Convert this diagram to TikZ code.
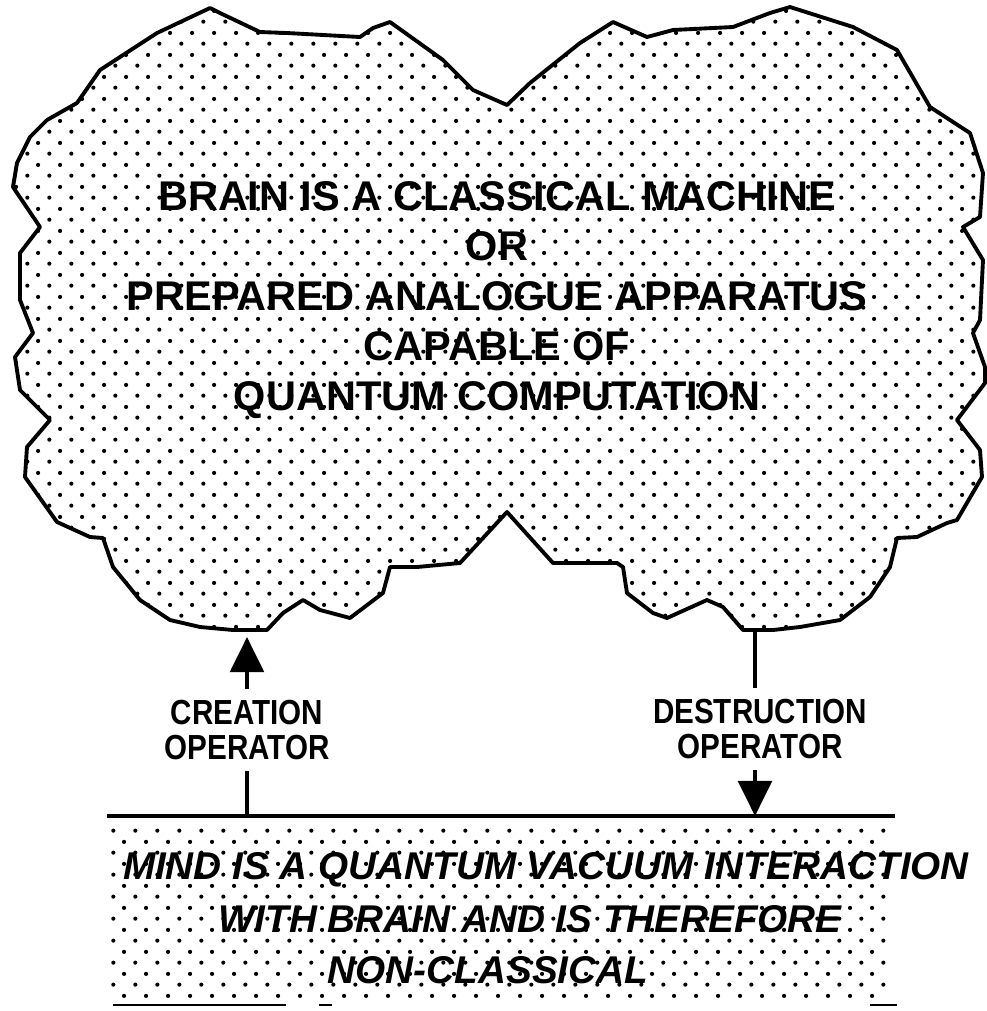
\documentclass[tikz,border=0pt]{standalone}
\usepackage{fontspec}
\setmainfont{Liberation Sans}
\newfontfamily\opfont[FakeStretch=0.85]{Liberation Sans}
\usetikzlibrary{arrows.meta,patterns}
\pgfdeclarepatternformonly{cloudots}{\pgfpointorigin}{\pgfpoint{6.17pt}{6.17pt}}{\pgfpoint{6.17pt}{6.17pt}}{%
  \pgfpathcircle{\pgfpoint{1.54pt}{1.54pt}}{0.6pt}%
  \pgfpathcircle{\pgfpoint{4.63pt}{4.63pt}}{0.6pt}%
  \pgfusepath{fill}}
\tikzstyle{cloudfill} = [draw, line width=1.1pt, line join=round, pattern=cloudots]
\tikzstyle{brainlabel} = [align=center, inner sep=0pt, font=\fontsize{11.8}{14.2}\selectfont\bfseries]
\tikzstyle{oplabel} = [align=center, inner sep=3pt, font=\opfont\fontsize{9.9}{10}\selectfont\bfseries]
\tikzstyle{mindlabel} = [inner sep=0pt, font=\fontsize{11}{13}\selectfont\bfseries\itshape]
\tikzstyle{line} = [draw, line width=1.3pt]
\tikzstyle{arrowline} = [draw, line width=1.3pt, -{Triangle[length=10pt,width=9.5pt]}]

\begin{document}
\begin{tikzpicture}[x=0.01cm, y=-0.01cm]
    \useasboundingbox (0,0) rectangle (987,1011);
    % Cloud
    \draw [cloudfill] (200,627) -- (170,620) -- (140,600) -- (113,567) -- (103,538) -- (90,537)
        -- (57,522) -- (25,477) -- (27,447) -- (50,420) -- (20,390) -- (15,357) -- (33,333)
        -- (20,300) -- (20,253) -- (40,227) -- (13,187) -- (17,163) -- (30,137) -- (47,120)
        -- (77,103) -- (100,70) -- (157,33) -- (210,8) -- (220,13) -- (260,32) -- (287,33)
        -- (360,37) -- (373,28) -- (390,22) -- (443,60) -- (473,90) -- (507,105)
        -- (530,83) -- (580,43) -- (613,22) -- (647,37) -- (673,30) -- (733,27) -- (770,13)
        -- (790,7) -- (853,27) -- (897,50) -- (930,107) -- (970,133) -- (983,173) -- (980,217)
        -- (963,227) -- (983,260) -- (980,320) -- (973,333) -- (985,367) -- (985,383)
        -- (957,420) -- (980,450) -- (982,477) -- (957,520) -- (947,523) -- (917,537)
        -- (897,538) -- (890,567) -- (870,597) -- (840,620) -- (800,627) -- (773,630)
        -- (743,630) -- (723,607) -- (707,600) -- (667,618) -- (653,613) -- (627,593)
        -- (623,567) -- (617,563) -- (553,563) -- (507,512) -- (460,563) -- (417,567)
        -- (390,567) -- (383,593) -- (350,618) -- (320,610) -- (303,600) -- (283,613)
        -- (267,630) -- (233,630) -- cycle;
    \node [brainlabel] (brain) at (497,300) {BRAIN IS A CLASSICAL MACHINE\\ OR\\
        PREPARED ANALOGUE APPARATUS\\ CAPABLE OF\\ QUANTUM COMPUTATION};
    % Mind
    \fill [pattern=cloudots] (107,822) rectangle (890,1000);
    \draw [line] (107,816) -- (895,816);
    \draw [line width=0.6pt] (113,1005) -- (286,1005) (319,1005) -- (332,1005) (870,1005) -- (897,1005);
    \node [mindlabel] (mind1) at (546,870) {MIND IS A QUANTUM VACUUM INTERACTION};
    \node [mindlabel] (mind2) at (530,919) {WITH BRAIN AND IS THEREFORE};
    \node [mindlabel] (mind3) at (488,970) {NON-CLASSICAL};
    % Operators
    \coordinate (crtop) at (247,637);
    \coordinate (crbot) at (247,816);
    \coordinate (dstop) at (755,630);
    \coordinate (dsbot) at (755,816);
    \node [oplabel] (creation) at (247,730) {CREATION\\ OPERATOR};
    \node [oplabel] (destruction) at (760,729) {DESTRUCTION\\ OPERATOR};
    \path [line] (crbot) -- (crbot |- creation.south);
    \path [arrowline] (crtop |- creation.north) -- (crtop);
    \path [line] (dstop) -- (dstop |- destruction.north);
    \path [arrowline] (dsbot |- destruction.south) -- (dsbot);
\end{tikzpicture}
\end{document}
